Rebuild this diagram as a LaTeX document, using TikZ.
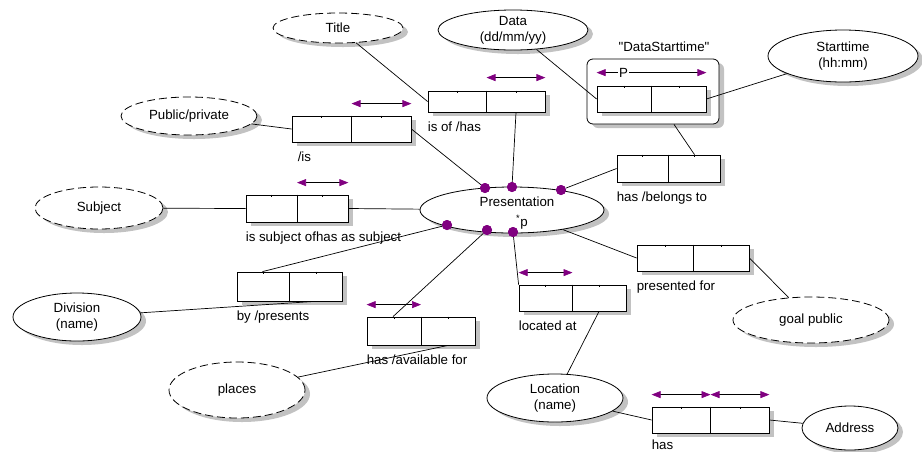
\documentclass[tikz,border=0pt]{standalone}
\usepackage{fontspec}
\setmainfont{Liberation Sans}[Ligatures=TeXOff]
\usetikzlibrary{shapes.geometric,arrows.meta,calc}
\definecolor{tipc}{RGB}{128,0,128}

% an ellipse with its drop shadow: style, name, x, y, width, height
\newcommand\mkent[6]{%
  \path[fill=black,fill opacity=0.24] (#3+5,#4+4) ellipse [x radius=#5/2, y radius=#6/2];
  \node[#1,minimum width=#5pt,minimum height=#6pt] (#2) at (#3,#4) {};
}
% a rectangle with its drop shadow: style, name, x, y, width, height
\newcommand\mkbox[6]{%
  \path[fill=black,fill opacity=0.24,#1] (#3+5-#5/2,#4+4-#6/2) rectangle (#3+5+#5/2,#4+4+#6/2);
  \node[relbox,#1,minimum width=#5pt,minimum height=#6pt] (#2) at (#3,#4) {};
}

\begin{document}
\begin{tikzpicture}[x=1pt,y=-1pt,
  every node/.style={font=\fontsize{13.3}{16}\selectfont},
  ent/.style={ellipse,draw=black,fill=white,line width=0.8pt,inner sep=0pt},
  opt/.style={ent,dash pattern=on 8pt off 4pt},
  relbox/.style={rectangle,draw=black,fill=white,line width=0.8pt,inner sep=0pt},
  plain/.style={},
  link/.style={line width=0.7pt},
  dot/.style={circle,fill=tipc,inner sep=0pt,minimum size=10pt},
  dir/.style={line width=0.7pt,{Triangle[color=tipc,length=9pt,width=7pt]}-{Triangle[color=tipc,length=9pt,width=7pt]}},
  lbl/.style={anchor=base west,inner sep=0pt},
  txt/.style={align=center,inner sep=0pt},
]
\useasboundingbox (0,0) rectangle (922,451);

% entity ellipses (dashed = optional)
\mkent{opt}{title}{338}{28}{130}{30}
\node[txt] (titleT) at (title) {Title};
\mkent{ent}{data}{513}{30}{150}{40}
\node[txt] (dataT) at (data) {Data\\(dd/mm/yy)};
\mkent{ent}{start}{843}{56}{150}{52}
\node[txt] (startT) at (start) {Starttime\\(hh:mm)};
\mkent{opt}{pub}{189}{116}{136}{38}
\node[txt] (pubT) at (pub) {Public/private};
\mkent{opt}{subject}{99}{208}{128}{42}
\node[txt] (subjectT) at (subject) {Subject};
\mkent{ent}{pres}{512}{210}{184}{46}
\node[txt] (presT) at (517,202) {Presentation};
\node[anchor=west,inner sep=0pt] (presP) at (516,222) {\textsuperscript{*}p};
\mkent{ent}{division}{77}{317}{128}{48}
\node[txt] (divisionT) at (division) {Division\\(name)};
\mkent{opt}{places}{237}{390}{136}{56}
\node[txt] (placesT) at (places) {places};
\mkent{opt}{goal}{811}{320}{156}{46}
\node[txt] (goalT) at (goal) {goal public};
\mkent{ent}{location}{555}{398}{136}{48}
\node[txt] (locationT) at (location) {Location\\(name)};
\mkent{ent}{address}{850}{428}{96}{44}
\node[txt] (addressT) at (address) {Address};

% nested relationship frame
\mkbox{rounded corners=6pt}{dst}{653}{91.5}{132}{65}
\node[txt] (dstT) at (664,47) {"DataStarttime"};

% relationship boxes
\mkbox{plain}{bis}{351.5}{129}{119}{26}
\mkbox{plain}{bisof}{486.5}{101.5}{117}{21}
\mkbox{plain}{sbox}{297}{208.5}{102}{27}
\mkbox{plain}{din}{651.5}{99}{109}{26}
\mkbox{plain}{belongs}{668.5}{168.5}{103}{27}
\mkbox{plain}{by}{289.5}{286.5}{105}{29}
\mkbox{plain}{avail}{421}{331}{108}{28}
\mkbox{plain}{locb}{572.5}{298}{107}{26}
\mkbox{plain}{pfor}{693}{258}{112}{26}
\mkbox{plain}{hasb}{710.5}{420}{117}{26}

\foreach \b in {bis,bisof,sbox,din,belongs,by,avail,locb,pfor,hasb} {
  \draw[line width=0.8pt] (\b.north) -- (\b.south);
  \draw[line width=0.6pt] ($(\b.north west)!0.25!(\b.north east)$) -- ++(0,2);
  \draw[line width=0.6pt] ($(\b.north west)!0.75!(\b.north east)$) -- ++(0,2);
}

% box captions
\node[lbl] (bisL) at ($(bis.south west)+(6,19)$) {/is};
\node[lbl] (bisofL) at ($(bisof.south west)+(0,19)$) {is of /has};
\node[lbl] (sboxL) at ($(sbox.south west)+(0,19)$) {is subject ofhas as subject};
\node[lbl] (belongsL) at ($(belongs.south west)+(0,19)$) {has /belongs to};
\node[lbl] (byL) at ($(by.south west)+(0,19)$) {by /presents};
\node[lbl] (availL) at ($(avail.south west)+(0,19)$) {has /available for};
\node[lbl] (locbL) at ($(locb.south west)+(0,19)$) {located at};
\node[lbl] (pforL) at ($(pfor.south west)+(0,19)$) {presented for};
\node[lbl] (hasbL) at ($(hasb.south west)+(0,16)$) {has};

% role markers on the central entity
\node[dot] (d1) at (485,188) {};
\node[dot] (d2) at (512,187) {};
\node[dot] (d3) at (561,190) {};
\node[dot] (d4) at (447,225) {};
\node[dot] (d5) at (487,230) {};
\node[dot] (d6) at (513,232) {};

% connectors
\begin{scope}[link]
\draw (title) -- (bisof.west);
\draw ([xshift=29.5pt]bisof.south) -- (d2);
\draw (pub) -- (bis.west);
\draw (bis.east) -- (d1);
\draw (data) -- (din.west);
\draw (start) -- (din.east);
\draw ([xshift=21pt]dst.south) -- ([xshift=26pt]belongs.north);
\draw (belongs.west) -- (d3);
\draw (subject) -- (sbox.west);
\draw (sbox.east) -- (pres);
\draw (d4) -- ([xshift=-27pt]by.north);
\draw (division) -- ([xshift=25pt]by.south);
\draw (d5) -- ([xshift=-28pt]avail.north);
\draw (places) -- ([xshift=27pt]avail.south);
\draw (d6) -- (locb.north west);
\draw ([xshift=26.5pt]locb.south) -- (location);
\draw (pres) -- (pfor.west);
\draw (pfor.east) -- (goal);
\draw (location) -- (hasb.west);
\draw (hasb.east) -- (address);
\end{scope}

% redraw markers over connector ends
\foreach \d in {d1,d2,d3,d4,d5,d6} { \fill[tipc] (\d) circle (5pt); }

% direction arrows
\draw[dir] ([yshift=12pt]bis.north) -- ([yshift=12pt]bis.north east);
\draw[dir] ([yshift=13pt]bisof.north) -- ([yshift=13pt]bisof.north east);
\draw[dir] ([yshift=12pt]sbox.north) -- ([yshift=12pt]sbox.north east);
\draw[dir] ([yshift=13pt]din.north west) -- ([yshift=13pt]din.north east);
\node[fill=white,inner sep=1pt] (pmark) at ($(din.north west)+(27,-13)$) {P};
\draw[dir] ([yshift=12pt]avail.north west) -- ([yshift=12pt]avail.north);
\draw[dir] ([yshift=12pt]locb.north west) -- ([yshift=12pt]locb.north);
\draw[dir] ([yshift=12pt]hasb.north west) -- ([yshift=12pt]hasb.north);
\draw[dir] ([yshift=12pt]hasb.north) -- ([yshift=12pt]hasb.north east);
\end{tikzpicture}
\end{document}
